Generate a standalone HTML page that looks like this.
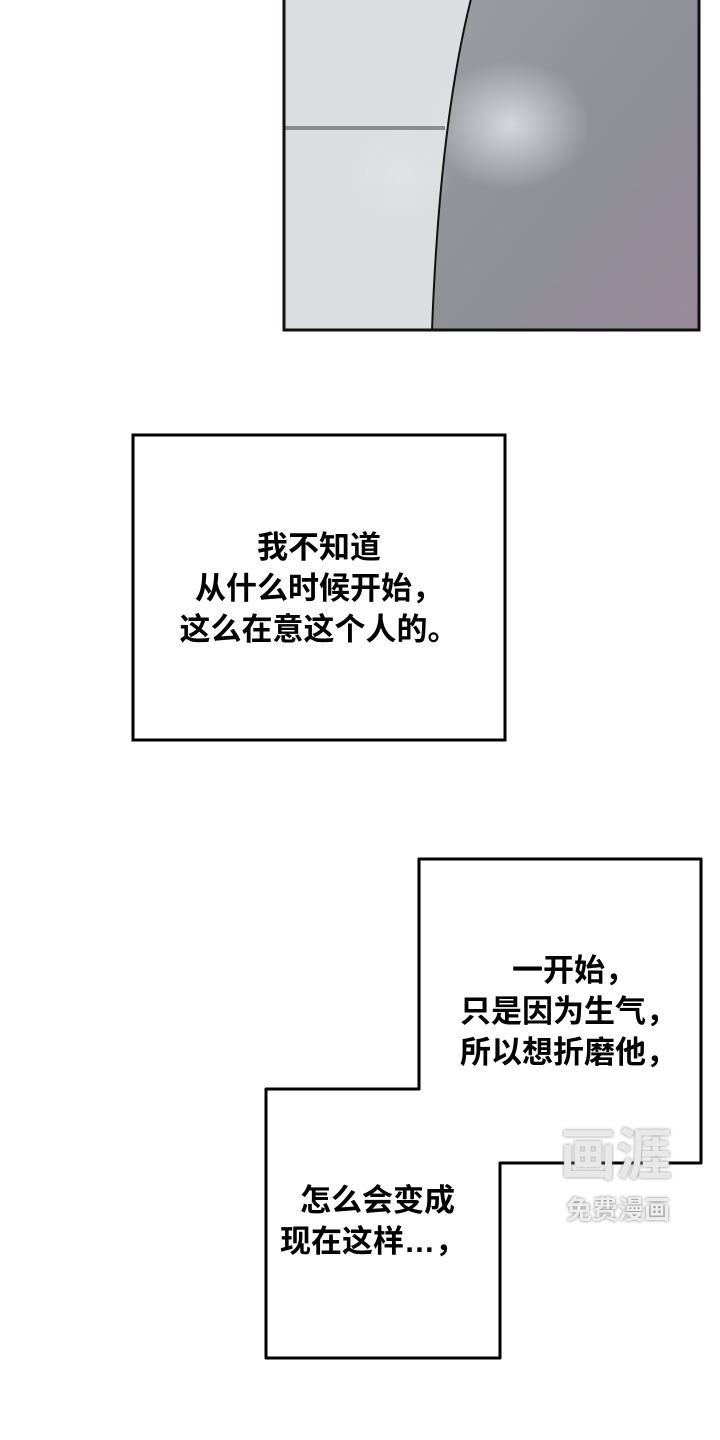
<!DOCTYPE html>
<html><head><meta charset="utf-8"><style>
body{margin:0;width:720px;height:1440px;background:#fff;position:relative;overflow:hidden;font-family:"Liberation Sans","Noto Sans CJK SC",sans-serif;}
.t{position:absolute;font-size:31px;line-height:41px;color:#000;white-space:nowrap;font-weight:bold}
</style></head><body>
<svg width="720" height="1440" style="position:absolute;left:0;top:0">
<defs>
<linearGradient id="g" x1="0" y1="0" x2="1" y2="1">
<stop offset="0" stop-color="#9a9da2"/><stop offset="0.6" stop-color="#8e8e96"/><stop offset="1" stop-color="#9a8a9a"/></linearGradient>
<radialGradient id="w" cx="0.5" cy="0.5" r="0.5"><stop offset="0" stop-color="#e6e8ec" stop-opacity="0.8"/><stop offset="1" stop-color="#e6e8ec" stop-opacity="0"/></radialGradient>
</defs>
<rect x="284" y="-5" width="415" height="335" fill="#dcdde0"/>
<path d="M472,-5 Q440,120 432,330 L699,330 L699,-5 Z" fill="url(#g)"/>
<ellipse cx="510" cy="125" rx="80" ry="65" fill="url(#w)"/>
<ellipse cx="400" cy="175" rx="50" ry="45" fill="url(#w)" opacity="0.6"/>
<line x1="285" y1="128" x2="445" y2="128" stroke="#8a8c90" stroke-width="4"/>
<path d="M472,-5 Q440,120 432,330" fill="none" stroke="#111" stroke-width="2"/>
<rect x="284" y="-5" width="415" height="335" fill="none" stroke="#111" stroke-width="3"/>
<rect x="133" y="435" width="372" height="305" fill="#fff" stroke="#000" stroke-width="3"/>
<polygon points="419,859 701,859 701,1163 500,1163 500,1358 266,1358 266,1089 419,1089" fill="#fff" stroke="#000" stroke-width="3" stroke-linejoin="round"/>
</svg>
<div class="t" style="left:133px;width:372px;top:527px;text-align:center">我不知道<br>从什么时候开始，<br>这么在意这个人的。</div>
<div class="t" style="left:460px;top:950px;width:230px"><span style="padding-left:52px">一开始，</span><br>只是因为生气，<br>所以想折磨他，</div>
<div class="t" style="left:280px;top:1180px"><span style="padding-left:20px">怎么会变成</span><br>现在这样…，</div>
<div style="position:absolute;left:560px;top:1124px;font-size:56px;line-height:64px;color:#e8e8e8;font-weight:bold;text-shadow:0 0 3px #888">画涯</div>
<div style="position:absolute;left:566px;top:1195px;font-size:26px;line-height:30px;color:#eee;font-weight:bold;text-shadow:0 0 3px #777">免费漫画</div>
</body></html>
